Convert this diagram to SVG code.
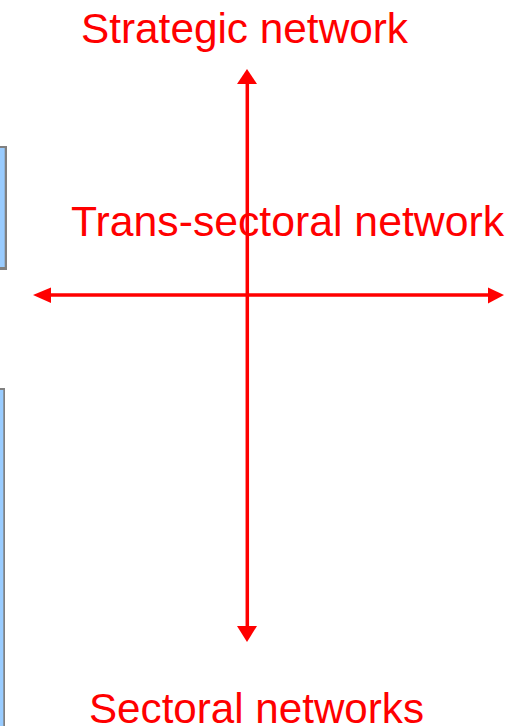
<svg xmlns="http://www.w3.org/2000/svg" width="516" height="726" viewBox="0 0 516 726">
  <style>
    .lbl { font-family: "Liberation Sans", Arial, sans-serif; font-size: 42px; fill: #FF0000; }
    .axis { stroke: #FF0000; stroke-width: 3.5; fill: none; }
    .head { fill: #FF0000; }
    .panel-edge { fill: #808080; }
    .panel-fill { fill: #99CCFF; }
  </style>

  <!-- panels cut off at the left edge -->
  <g id="panel-upper">
    <rect class="panel-edge" x="-10" y="146" width="17" height="124"/>
    <rect class="panel-fill" x="-10" y="148" width="14.7" height="119"/>
  </g>
  <g id="panel-lower">
    <rect class="panel-edge" x="-10" y="388" width="15" height="350"/>
    <rect class="panel-fill" x="-10" y="390" width="13.3" height="350"/>
  </g>

  <!-- labels -->
  <g id="label-strategic">
    <text class="lbl" x="81" y="43" textLength="327" lengthAdjust="spacingAndGlyphs">Strategic network</text>
  </g>
  <g id="label-trans-sectoral">
    <text class="lbl" x="71" y="236" textLength="433" lengthAdjust="spacingAndGlyphs">Trans-sectoral network</text>
  </g>
  <g id="label-sectoral">
    <text class="lbl" x="89" y="723" textLength="335" lengthAdjust="spacingAndGlyphs">Sectoral networks</text>
  </g>

  <!-- axes with arrowheads -->
  <g id="connectors">
    <line class="axis" x1="247.3" y1="83" x2="247.3" y2="627"/>
    <line class="axis" x1="50" y1="295" x2="489" y2="295"/>
    <polygon class="head" points="247,69 237,84 257,84"/>
    <polygon class="head" points="247,642 237,626 257,626"/>
    <polygon class="head" points="33,295 51,287.5 51,303"/>
    <polygon class="head" points="504,295 488,287.5 488,303.5"/>
  </g>
</svg>
